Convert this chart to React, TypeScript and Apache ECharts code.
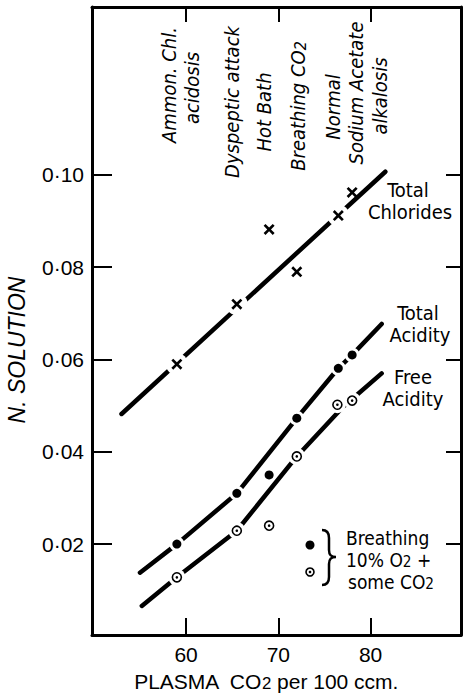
import React, { useEffect, useRef } from "react";
import * as echarts from "echarts";

// ---- data ----
const xTickValues = [60, 70, 80];
const yTickValues = [0.02, 0.04, 0.06, 0.08, 0.1];

const chlorideX = [59, 65.5, 69, 72, 76.5, 78];
const chlorideY = [0.059, 0.072, 0.0882, 0.079, 0.0912, 0.0962];
const chlorideOnLine = [true, true, false, false, true, false];
const chlorideLineX = [53.0, 81.6];
const chlorideLineY = [0.0482, 0.1007];

const totalAcidX = [59, 65.5, 69, 72, 76.5, 78];
const totalAcidY = [0.02, 0.031, 0.035, 0.0473, 0.0581, 0.061];
const totalAcidOnLine = [true, true, false, true, true, true];
const totalAcidLineX = [55.0, 59, 65.5, 72, 76.5, 78, 81.2];
const totalAcidLineY = [0.0138, 0.02, 0.031, 0.0473, 0.0581, 0.061, 0.0677];

const freeAcidX = [59, 65.5, 69, 72, 76.4, 78];
const freeAcidY = [0.0128, 0.0229, 0.024, 0.039, 0.0502, 0.0511];
const freeAcidOnLine = [true, true, false, true, true, true];
const freeAcidLineX = [55.2, 59, 65.5, 72, 77, 81.2];
const freeAcidLineY = [0.0066, 0.0128, 0.0229, 0.039, 0.0497, 0.057];

const topLabels = [
  { text: "Ammon. Chl.", x: 169, y: 85 },
  { text: "acidosis", x: 192, y: 88 },
  { text: "Dyspeptic attack", x: 232, y: 102 },
  { text: "Hot Bath", x: 264, y: 112 },
  { text: "Breathing CO{s|2}", x: 298, y: 106 },
  { text: "Normal", x: 333, y: 107 },
  { text: "Sodium Acetate", x: 356, y: 93 },
  { text: "alkalosis", x: 380, y: 96 },
];

const seriesLabels = [
  { text: "Total", x: 408, y: 190 },
  { text: "Chlorides", x: 410, y: 212 },
  { text: "Total", x: 418, y: 313 },
  { text: "Acidity", x: 420, y: 335 },
  { text: "Free", x: 413, y: 377 },
  { text: "Acidity", x: 413, y: 399 },
];

const legendLines = [
  { text: "Breathing", x: 346, y: 538 },
  { text: "10% O{s|2} +", x: 346, y: 560 },
  { text: "some CO{s|2}", x: 348, y: 582 },
];

const zip = (xs: number[], ys: number[]) => xs.map((x, i) => [x, ys[i]]);
const onLine = (xs: number[], ys: number[], flags: boolean[]) =>
  zip(xs, ys).filter((_, i) => flags[i]);

const NARROW = "'Liberation Sans Narrow', 'DejaVu Sans Condensed', 'Liberation Sans', sans-serif";
const SANS = "'Liberation Sans', Arial, sans-serif";

const CROSS =
  "path://M0,1.7L1.7,0L5,3.3L8.3,0L10,1.7L6.7,5L10,8.3L8.3,10L5,6.7L1.7,10L0,8.3L3.3,5Z";

echarts.graphic.registerShape(
  "brace",
  echarts.graphic.extendPath(
    "M0,0 C5,0 7,3 7,8 L7,20 C7,25 9,27 14,27 C9,27 7,29 7,34 L7,47 C7,52 5,55 0,55",
    {}
  )
);

function txt(text: string, x: number, y: number, opts: any = {}) {
  const fs = opts.fontSize || 20;
  const lh = opts.lineHeight || fs;
  return {
    type: "text",
    x,
    y,
    rotation: opts.rotation || 0,
    silent: true,
    style: {
      text,
      fill: "#000",
      fontSize: fs,
      fontFamily: opts.fontFamily || NARROW,
      fontStyle: opts.fontStyle || "normal",
      align: opts.align || "center",
      verticalAlign: "middle",
      textAlign: opts.align || "center",
      textVerticalAlign: "middle",
      lineHeight: lh,
      rich: {
        s: {
          fontSize: fs * 0.8,
          fontFamily: opts.fontFamily || NARROW,
          fontStyle: opts.fontStyle || "normal",
          verticalAlign: "bottom",
          lineHeight: lh,
        },
      },
    },
  };
}

export default function App() {
  const ref = useRef<HTMLDivElement>(null);
  useEffect(() => {
    if (!ref.current) return;
    const chart = echarts.init(ref.current, null, { renderer: "svg" });
    const axisLine = { show: true, onZero: false, lineStyle: { color: "#000", width: 3 } };
    const xCommon = { type: "value", min: 49.8, max: 89.8, splitLine: { show: false }, axisLine };
    const yCommon = { type: "value", min: 0.0003, max: 0.1364, splitLine: { show: false }, axisLine };
    const option: any = {
      animation: false,
      backgroundColor: "#fff",
      grid: { left: 92, right: 2, top: 7, bottom: 62 },
      xAxis: [
        {
          ...xCommon,
          position: "bottom",
          axisTick: { show: true, inside: true, length: 17, customValues: xTickValues, lineStyle: { color: "#000", width: 2 } },
          axisLabel: { show: true, customValues: xTickValues, color: "#000", fontSize: 21, fontFamily: SANS, margin: 9 },
        },
        {
          ...xCommon,
          position: "top",
          axisTick: { show: true, inside: true, length: 15, customValues: xTickValues, lineStyle: { color: "#000", width: 2 } },
          axisLabel: { show: false },
        },
      ],
      yAxis: [
        {
          ...yCommon,
          position: "left",
          axisTick: { show: true, inside: true, length: 20, customValues: yTickValues, lineStyle: { color: "#000", width: 2 } },
          axisLabel: {
            show: true,
            customValues: yTickValues,
            color: "#000",
            fontSize: 21,
            fontFamily: SANS,
            margin: 8,
            formatter: (v: number) => v.toFixed(2).replace(".", "·"),
          },
        },
        {
          ...yCommon,
          position: "right",
          axisTick: { show: true, inside: true, length: 15, customValues: yTickValues, lineStyle: { color: "#000", width: 2 } },
          axisLabel: { show: false },
        },
      ],
      series: [
        ...[
          zip(chlorideLineX, chlorideLineY),
          zip(totalAcidLineX, totalAcidLineY),
          zip(freeAcidLineX, freeAcidLineY),
        ].map((d) => ({
          type: "line",
          data: d,
          showSymbol: false,
          silent: true,
          z: 2,
          lineStyle: { color: "#000", width: 4.5, cap: "round" },
        })),
        ...[
          { d: onLine(chlorideX, chlorideY, chlorideOnLine), s: 22 },
          { d: onLine(totalAcidX, totalAcidY, totalAcidOnLine), s: 15 },
          { d: onLine(freeAcidX, freeAcidY, freeAcidOnLine), s: 17 },
        ].map((h) => ({
          type: "scatter",
          data: h.d,
          symbol: "circle",
          symbolSize: h.s,
          silent: true,
          z: 3,
          itemStyle: { color: "#fff", opacity: 1 },
        })),
        {
          type: "scatter",
          data: zip(chlorideX, chlorideY),
          symbol: CROSS,
          symbolSize: 11,
          silent: true,
          z: 4,
          itemStyle: { color: "#000", opacity: 1 },
        },
        {
          type: "scatter",
          data: zip(totalAcidX, totalAcidY),
          symbol: "circle",
          symbolSize: 9,
          silent: true,
          z: 4,
          itemStyle: { color: "#000", opacity: 1 },
        },
        {
          type: "scatter",
          data: zip(freeAcidX, freeAcidY),
          symbol: "circle",
          symbolSize: 9,
          silent: true,
          z: 4,
          itemStyle: { color: "#fff", borderColor: "#000", borderWidth: 1.6, opacity: 1 },
        },
        {
          type: "scatter",
          data: zip(freeAcidX, freeAcidY),
          symbol: "circle",
          symbolSize: 2.6,
          silent: true,
          z: 5,
          itemStyle: { color: "#000", opacity: 1 },
        },
      ],
      graphic: [
        ...topLabels.map((l) =>
          txt(l.text, l.x, l.y, { rotation: Math.PI / 2, fontStyle: "italic", fontSize: 20 })
        ),
        txt("N. SOLUTION", 17, 350, { rotation: Math.PI / 2, fontStyle: "italic", fontSize: 23, fontFamily: SANS }),
        ...seriesLabels.map((l) => txt(l.text, l.x, l.y, { fontSize: 20, lineHeight: 20 })),
        ...legendLines.map((l) => txt(l.text, l.x, l.y, { align: "left", fontSize: 19, lineHeight: 19 })),
        txt("PLASMA  CO{s|2} per 100 ccm.", 266, 681, { fontSize: 21, fontFamily: SANS }),
        { type: "circle", silent: true, shape: { cx: 310, cy: 545, r: 4.5 }, style: { fill: "#000" } },
        { type: "circle", silent: true, shape: { cx: 310, cy: 572, r: 4 }, style: { fill: "#fff", stroke: "#000", lineWidth: 1.6 } },
        { type: "circle", silent: true, shape: { cx: 310, cy: 572, r: 1.3 }, style: { fill: "#000" } },
        { type: "brace", silent: true, x: 322, y: 530, style: { fill: null, stroke: "#000", lineWidth: 2.5 } },
      ],
    };
    chart.setOption(option);
    return () => chart.dispose();
  }, []);
  return (
    <div
      ref={ref}
      style={{ position: "absolute", left: 0, top: 0, width: 463, height: 697, background: "#fff" }}
    />
  );
}
